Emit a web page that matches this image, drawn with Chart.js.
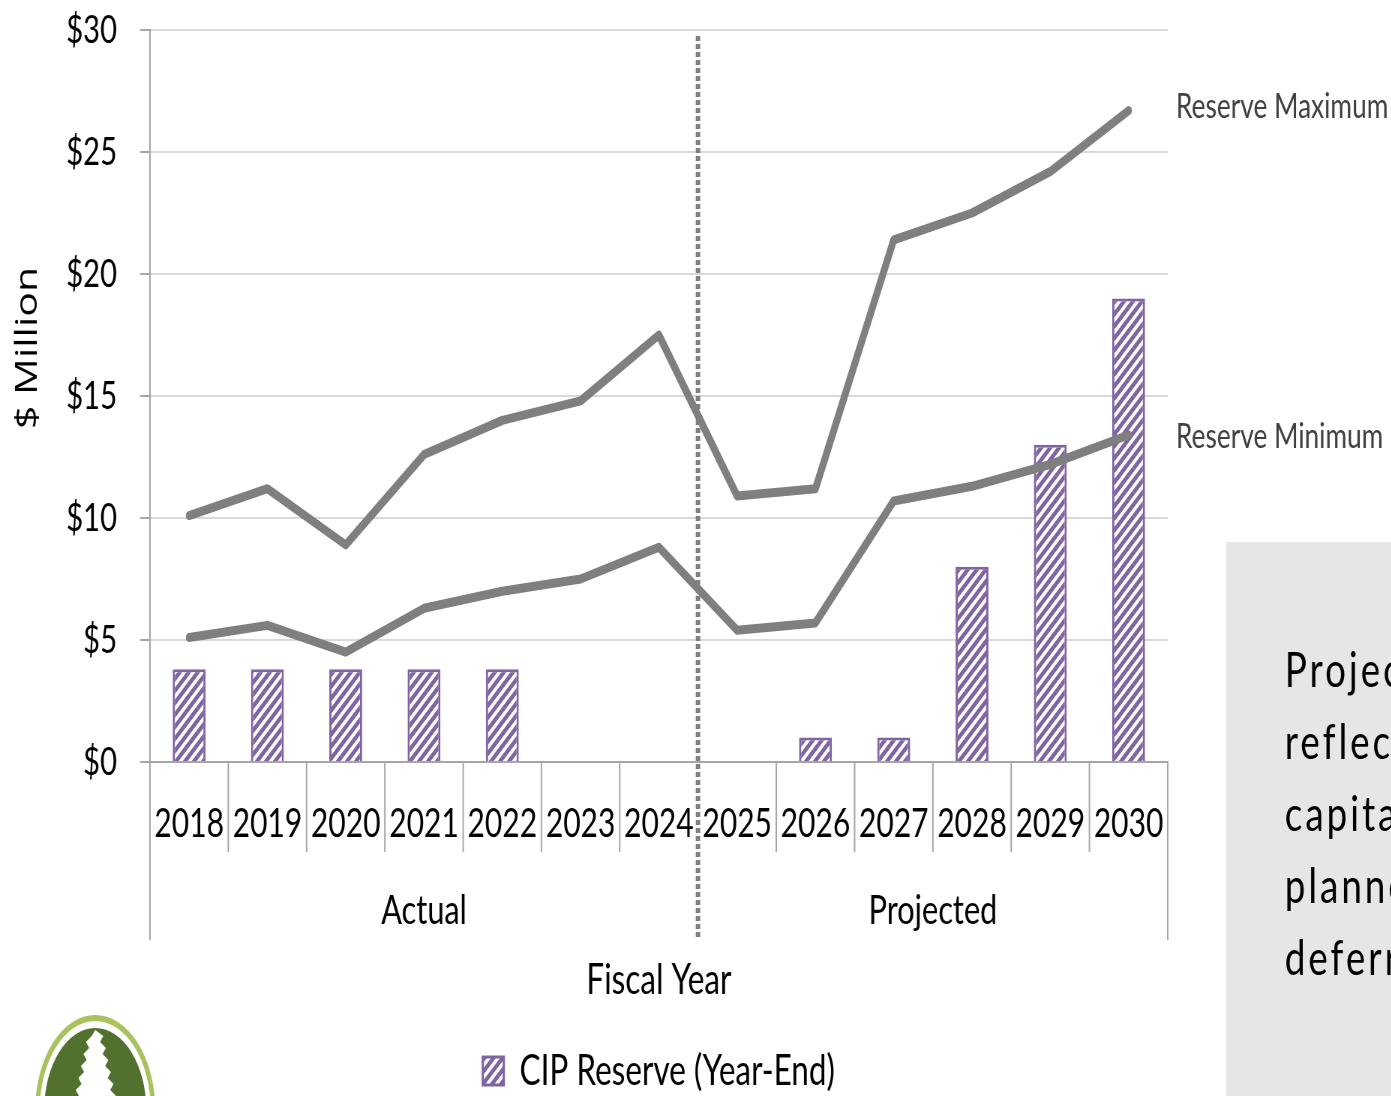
<!DOCTYPE html>
<html>
<head>
<meta charset="utf-8">
<title>CIP Reserve</title>
<script src="https://cdn.jsdelivr.net/npm/chart.js@4"></script>
<style>
  html, body { margin: 0; padding: 0; background: #ffffff; overflow: hidden; }
  /* the slide is drawn wide and squeezed horizontally, like the deck it comes from */
  #wrap { position: absolute; left: 0; top: 0; width: 1855px; height: 1096px;
          transform: scaleX(0.75); transform-origin: 0 0; }
</style>
</head>
<body>
<div id="wrap"><canvas id="chart" width="1855" height="1096"></canvas></div>
<script>
'use strict';

// ***** DATA *****
const fiscalYears = ['2018', '2019', '2020', '2021', '2022', '2023', '2024',
  '2025', '2026', '2027', '2028', '2029', '2030'];
const actualCount = 7; // 2018-2024 actual, the rest projected
const groupLabels = ['Actual', 'Projected'];
const cipReserve = [3.8, 3.8, 3.8, 3.8, 3.8, null, null, null, 1.0, 1.0, 8.0, 13.0, 19.0];
const reserveMaximum = [10.1, 11.2, 8.9, 12.6, 14.0, 14.8, 17.5, 10.9, 11.2, 21.4, 22.5, 24.2, 26.7];
const reserveMinimum = [5.1, 5.6, 4.5, 6.3, 7.0, 7.5, 8.8, 5.4, 5.7, 10.7, 11.3, 12.2, 13.4];
const yTicks = [0, 5, 10, 15, 20, 25, 30];
const noteLines = ['Projected', 'reflects', 'capital', 'planned', 'deferred'];

// ***** STYLE *****
const purple = '#8064a2';
const lineGray = '#7f7f7f';
const axisGray = '#a6a6a6';
const gridGray = '#d9d9d9';
const calibriLike = 'Lato, "Open Sans", sans-serif';

const canvas = document.getElementById('chart');
const ctx = canvas.getContext('2d');

// wide upward diagonal hatch for the reserve bars
function makeHatch() {
  const size = 12;
  const tile = document.createElement('canvas');
  tile.width = size;
  tile.height = size;
  const g = tile.getContext('2d');
  g.fillStyle = '#ffffff';
  g.fillRect(0, 0, size, size);
  g.strokeStyle = purple;
  g.lineWidth = 4.6;
  g.beginPath();
  g.moveTo(-size / 2, size / 2); g.lineTo(size / 2, -size / 2);
  g.moveTo(0, size); g.lineTo(size, 0);
  g.moveTo(size / 2, size * 1.5); g.lineTo(size * 1.5, size / 2);
  g.stroke();
  return ctx.createPattern(tile, 'repeat');
}
const hatch = makeHatch();

// ***** EXTRA DRAWING (separators, group labels, notes, logo) *****
function boundaryX(xScale, i) {
  return (xScale.getPixelForValue(i - 1) + xScale.getPixelForValue(i)) / 2;
}

function drawLogo(c) {
  const cx = 127, cy = 1110;
  const ring = [[80, 95, '#a9c25d'], [74, 89, '#ffffff'], [68, 82, '#52712f']];
  ring.forEach(([rx, ry, col]) => {
    c.beginPath();
    c.ellipse(cx, cy, rx, ry, 0, 0, Math.PI * 2);
    c.fillStyle = col;
    c.fill();
  });
  // little white tree
  c.fillStyle = '#ffffff';
  c.beginPath();
  c.moveTo(cx, 1030);
  const steps = 11;
  for (let i = 1; i <= steps; i++) {
    const y = 1030 + i * 6;
    const w = 3 + i * 1.7 + (i % 2 ? 6 : 0);
    c.lineTo(cx + w, y);
  }
  c.lineTo(cx + 26, 1100);
  c.lineTo(cx - 26, 1100);
  for (let i = steps; i >= 1; i--) {
    const y = 1030 + i * 6;
    const w = 3 + i * 1.7 + (i % 2 ? 0 : 6);
    c.lineTo(cx - w, y);
  }
  c.closePath();
  c.fill();
}

const extrasPlugin = {
  id: 'extras',
  beforeDraw(chart) {
    const c = chart.ctx;
    c.save();
    // note panel on the right
    c.fillStyle = '#e7e6e6';
    c.fillRect(1635, 542, 260, 600);
    c.fillStyle = '#000000';
    c.font = '49px ' + calibriLike;
    c.letterSpacing = '4px';
    c.textAlign = 'left';
    c.textBaseline = 'alphabetic';
    noteLines.forEach((txt, i) => c.fillText(txt, 1713, 687 + i * 72));
    c.letterSpacing = '0px';
    drawLogo(c);
    c.restore();
  },
  afterDraw(chart) {
    const c = chart.ctx;
    const xs = chart.scales.x;
    const area = chart.chartArea;
    const axisY = area.bottom;
    c.save();

    // category separators under the axis
    c.strokeStyle = axisGray;
    c.lineWidth = 2;
    c.beginPath();
    for (let i = 1; i < fiscalYears.length; i++) {
      if (i === actualCount) continue;
      const x = boundaryX(xs, i);
      c.moveTo(x, axisY);
      c.lineTo(x, 852);
    }
    c.moveTo(area.left, axisY); c.lineTo(area.left, 940);
    c.moveTo(area.right, axisY); c.lineTo(area.right, 940);
    c.stroke();

    // dotted divider between actual and projected years
    const splitX = boundaryX(xs, actualCount);
    c.strokeStyle = lineGray;
    c.lineWidth = 6;
    c.setLineDash([5, 3]);
    c.beginPath();
    c.moveTo(splitX, 36);
    c.lineTo(splitX, 940);
    c.stroke();
    c.setLineDash([]);

    // group labels
    c.fillStyle = '#000000';
    c.font = '41px ' + calibriLike;
    c.textAlign = 'center';
    c.textBaseline = 'middle';
    const actualMid = (xs.getPixelForValue(0) + xs.getPixelForValue(actualCount - 1)) / 2;
    const projMid = (xs.getPixelForValue(actualCount) + xs.getPixelForValue(fiscalYears.length - 1)) / 2;
    c.fillText(groupLabels[0], actualMid, 911);
    c.fillText(groupLabels[1], projMid, 911);

    // y axis title
    c.save();
    c.translate(37, 348);
    c.rotate(-Math.PI / 2);
    c.font = '41px "Open Sans", sans-serif';
    c.fillText('$ Million', 0, 0);
    c.restore();

    // line labels
    c.fillStyle = '#404040';
    c.font = '35px ' + calibriLike;
    c.textAlign = 'left';
    c.textBaseline = 'alphabetic';
    c.fillText('Reserve Maximum', 1568, 118);
    c.fillText('Reserve Minimum', 1568, 448);
    c.restore();
  }
};

// ***** CHART *****
const chartObject = {
  type: 'bar',
  data: {
    labels: fiscalYears,
    datasets: [{
      label: 'CIP Reserve (Year-End)',
      data: cipReserve,
      backgroundColor: hatch,
      borderColor: purple,
      borderWidth: 3,
      barPercentage: 0.42,
      categoryPercentage: 1,
      order: 1
    },
    {
      type: 'line',
      label: 'Reserve Maximum',
      data: reserveMaximum,
      borderColor: lineGray,
      borderWidth: 9,
      pointRadius: 0,
      tension: 0,
      borderCapStyle: 'round',
      borderJoinStyle: 'round',
      order: 0
    },
    {
      type: 'line',
      label: 'Reserve Minimum',
      data: reserveMinimum,
      borderColor: lineGray,
      borderWidth: 9,
      pointRadius: 0,
      tension: 0,
      borderCapStyle: 'round',
      borderJoinStyle: 'round',
      order: 0
    }]
  },
  options: {
    responsive: false,
    animation: false,
    devicePixelRatio: 1,
    layout: { padding: { top: 30, right: 298, bottom: -6, left: 0 } },
    scales: {
      x: {
        offset: true,
        grid: { display: false },
        border: { display: true, color: axisGray, width: 2 },
        ticks: {
          font: { family: calibriLike, size: 40 },
          color: '#000000',
          padding: 30,
          maxRotation: 0,
          autoSkip: false
        },
        title: {
          display: true,
          text: 'Fiscal Year',
          font: { family: calibriLike, size: 42 },
          color: '#000000',
          padding: { top: 0, bottom: 40 }
        },
        afterFit(scale) { scale.height = 284; }
      },
      y: {
        min: yTicks[0],
        max: yTicks[yTicks.length - 1],
        afterBuildTicks(scale) { scale.ticks = yTicks.map(v => ({ value: v })); },
        grid: { color: gridGray, lineWidth: 2, tickColor: axisGray, tickLength: 13 },
        border: { display: true, color: axisGray, width: 2 },
        ticks: {
          font: { family: calibriLike, size: 39 },
          color: '#000000',
          padding: 31,
          callback: v => '$' + v
        },
        afterFit(scale) {
          scale.width = 200;
          // the top label can sit in the layout padding
          scale.paddingTop = 0;
          scale.paddingBottom = 0;
        }
      }
    },
    plugins: {
      tooltip: { enabled: false },
      legend: {
        position: 'bottom',
        fullSize: false,
        labels: {
          filter: item => item.datasetIndex === 0,
          font: { family: calibriLike, size: 42 },
          color: '#000000',
          boxWidth: 28,
          boxHeight: 28,
          padding: 4
        }
      }
    }
  },
  plugins: [extrasPlugin]
};

new Chart(ctx, chartObject);
</script>
</body>
</html>
